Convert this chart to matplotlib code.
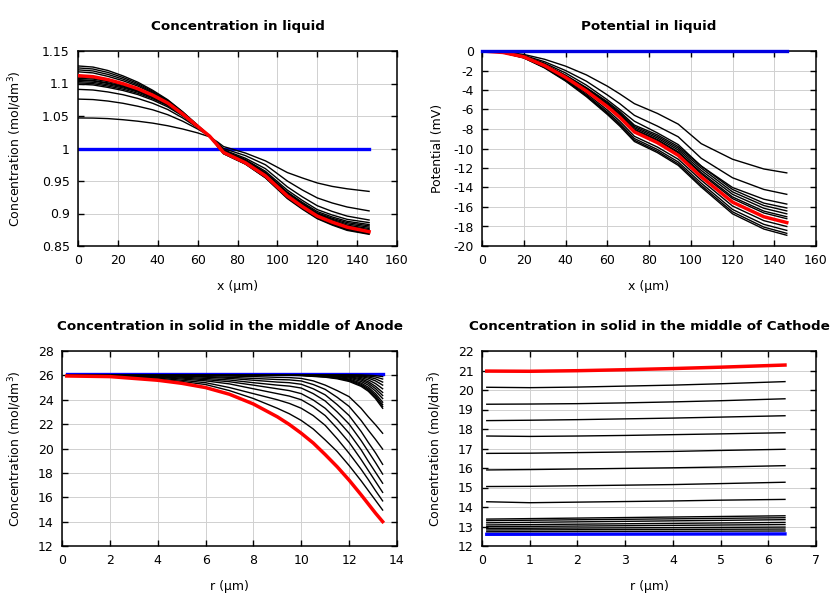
import numpy as np
import matplotlib
matplotlib.use('Agg')
import matplotlib.pyplot as plt
from matplotlib.ticker import FuncFormatter

plt.rcParams['font.family'] = 'DejaVu Sans'
plt.rcParams['axes.unicode_minus'] = False

# ---- Concentration in liquid (mol/dm3) vs x (um)
x_liq = [0, 7.5, 15, 22.5, 30, 37.5, 45, 52.5, 60, 66, 70, 73, 84, 94, 105, 112.5, 120, 127.5, 135, 146]
cl_1 = [1.047, 1.0468, 1.046, 1.0443, 1.042, 1.039, 1.035, 1.030, 1.024, 1.018, 1.010, 1.003, 0.993, 0.981, 0.963, 0.9547, 0.947, 0.9417, 0.938, 0.934]
cl_2 = [1.076, 1.0753, 1.073, 1.0696, 1.065, 1.0595, 1.052, 1.042, 1.030, 1.019, 1.008, 1.000, 0.989, 0.975, 0.950, 0.9362, 0.924, 0.9162, 0.910, 0.904]
cl_3 = [1.091, 1.090, 1.087, 1.0828, 1.077, 1.0695, 1.060, 1.047, 1.032, 1.019, 1.006, 0.998, 0.985, 0.969, 0.941, 0.9257, 0.912, 0.9032, 0.896, 0.890]
cl_4 = [1.099, 1.0978, 1.094, 1.0893, 1.083, 1.0745, 1.064, 1.050, 1.033, 1.019, 1.006, 0.997, 0.983, 0.965, 0.936, 0.9202, 0.906, 0.8977, 0.891, 0.886]
cl_5 = [1.101, 1.0998, 1.096, 1.0913, 1.085, 1.0765, 1.066, 1.0515, 1.033, 1.019, 1.005, 0.996, 0.982, 0.963, 0.933, 0.9172, 0.903, 0.8947, 0.888, 0.883]
cl_6 = [1.103, 1.1018, 1.098, 1.0933, 1.087, 1.078, 1.067, 1.0525, 1.034, 1.019, 1.005, 0.996, 0.981, 0.962, 0.932, 0.9157, 0.901, 0.8927, 0.886, 0.881]
cl_7 = [1.105, 1.1038, 1.100, 1.0948, 1.088, 1.079, 1.068, 1.053, 1.034, 1.019, 1.005, 0.995, 0.980, 0.961, 0.930, 0.9142, 0.900, 0.8912, 0.884, 0.879]
cl_8 = [1.106, 1.1048, 1.101, 1.0958, 1.089, 1.0795, 1.068, 1.053, 1.034, 1.019, 1.005, 0.995, 0.980, 0.960, 0.929, 0.9132, 0.899, 0.8897, 0.882, 0.877]
cl_9 = [1.108, 1.1068, 1.103, 1.0973, 1.090, 1.0805, 1.069, 1.0535, 1.034, 1.019, 1.005, 0.995, 0.979, 0.959, 0.928, 0.9122, 0.898, 0.8887, 0.881, 0.875]
cl_10 = [1.110, 1.1085, 1.104, 1.0983, 1.091, 1.081, 1.069, 1.0535, 1.034, 1.019, 1.005, 0.994, 0.979, 0.959, 0.928, 0.9117, 0.897, 0.8877, 0.880, 0.874]
cl_11 = [1.118, 1.1163, 1.111, 1.1043, 1.096, 1.085, 1.072, 1.055, 1.035, 1.019, 1.004, 0.993, 0.977, 0.957, 0.926, 0.9097, 0.895, 0.8852, 0.877, 0.871]
cl_12 = [1.121, 1.1193, 1.114, 1.1068, 1.098, 1.0865, 1.073, 1.0555, 1.035, 1.019, 1.004, 0.993, 0.977, 0.956, 0.925, 0.9087, 0.894, 0.8842, 0.876, 0.870]
cl_13 = [1.124, 1.1223, 1.117, 1.1093, 1.100, 1.088, 1.074, 1.056, 1.035, 1.019, 1.004, 0.992, 0.976, 0.955, 0.924, 0.9077, 0.893, 0.8832, 0.875, 0.869]
cl_14 = [1.127, 1.1253, 1.120, 1.1118, 1.102, 1.0895, 1.075, 1.0565, 1.036, 1.019, 1.003, 0.992, 0.976, 0.955, 0.923, 0.9067, 0.892, 0.8822, 0.874, 0.868]
cl_last = [1.112, 1.1105, 1.106, 1.0998, 1.092, 1.082, 1.070, 1.053, 1.034, 1.019, 1.005, 0.994, 0.978, 0.958, 0.927, 0.9107, 0.896, 0.8867, 0.879, 0.872]
x_liq_init = [0, 146]
cl_init = [1.0, 1.0]

# ---- Potential in liquid (mV) vs x (um)
x_pot = [0, 10, 20, 30, 40, 50, 60, 66, 73, 84, 94, 105, 120, 135, 146]
pot_1 = [0, -0.08, -0.35, -0.85, -1.55, -2.45, -3.6, -4.4, -5.4, -6.4, -7.5, -9.5, -11.1, -12.1, -12.5]
pot_2 = [0, -0.1, -0.45, -1.1, -2.0, -3.1, -4.5, -5.4, -6.6, -7.7, -8.8, -11.0, -13.0, -14.2, -14.7]
pot_3 = [0, -0.12, -0.5, -1.25, -2.25, -3.5, -5.0, -6.0, -7.2, -8.4, -9.6, -11.8, -14.0, -15.2, -15.7]
pot_4 = [0, -0.14, -0.55, -1.37, -2.47, -3.75, -5.2, -6.2, -7.6, -8.6, -9.8, -11.8, -14.2, -15.6, -16.1]
pot_5 = [0, -0.14, -0.56, -1.4, -2.52, -3.82, -5.3, -6.34, -7.74, -8.76, -9.97, -12.0, -14.45, -15.85, -16.4]
pot_6 = [0, -0.14, -0.57, -1.42, -2.56, -3.89, -5.41, -6.45, -7.88, -8.92, -10.15, -12.24, -14.7, -16.13, -16.7]
pot_7 = [0, -0.14, -0.58, -1.45, -2.61, -3.96, -5.51, -6.57, -8.02, -9.08, -10.34, -12.46, -14.97, -16.42, -17.0]
pot_8 = [0, -0.15, -0.59, -1.47, -2.64, -4.0, -5.57, -6.65, -8.11, -9.18, -10.45, -12.6, -15.14, -16.61, -17.2]
pot_9 = [0, -0.16, -0.64, -1.6, -2.85, -4.35, -6.05, -7.2, -8.75, -9.85, -11.1, -13.25, -15.9, -17.4, -18.0]
pot_10 = [0, -0.17, -0.67, -1.66, -2.95, -4.5, -6.25, -7.42, -8.98, -10.1, -11.38, -13.55, -16.25, -17.78, -18.4]
pot_11 = [0, -0.17, -0.69, -1.7, -3.02, -4.6, -6.38, -7.58, -9.15, -10.28, -11.58, -13.78, -16.5, -18.06, -18.7]
pot_12 = [0, -0.18, -0.71, -1.74, -3.08, -4.68, -6.5, -7.7, -9.28, -10.42, -11.73, -13.95, -16.7, -18.26, -18.9]
pot_last = [0, -0.15, -0.6, -1.5, -2.7, -4.1, -5.7, -6.8, -8.3, -9.4, -10.7, -12.9, -15.5, -17.0, -17.6]
x_pot_init = [0, 146]
pot_init = [0, 0]

# ---- Solid concentration, middle of anode, vs r (um)
r_an = [0.2, 2, 4, 5, 6, 7, 8, 9, 9.5, 10, 10.5, 11, 11.5, 12, 12.5, 12.8, 13.1, 13.4]
an_1 = [26.02, 25.97, 25.7, 25.5, 25.25, 24.75, 24.1, 23.3, 22.85, 22.3, 21.6, 20.7, 19.75, 18.6, 17.35, 16.55, 15.75, 14.95]
an_2 = [26.03, 26.0, 25.78, 25.6, 25.4, 25.0, 24.5, 24.0, 23.7, 23.3, 22.7, 21.9, 20.8, 19.6, 18.3, 17.45, 16.55, 15.7]
an_3 = [26.03, 26.02, 25.84, 25.7, 25.55, 25.3, 24.9, 24.5, 24.3, 24.0, 23.43, 22.7, 21.65, 20.5, 19.1, 18.2, 17.3, 16.4]
an_4 = [26.04, 26.03, 25.88, 25.78, 25.65, 25.48, 25.2, 24.9, 24.75, 24.5, 23.98, 23.3, 22.35, 21.25, 19.9, 18.95, 18.05, 17.15]
an_5 = [26.05, 26.04, 25.92, 25.85, 25.75, 25.62, 25.4, 25.2, 25.12, 24.96, 24.5, 23.9, 23.0, 22.0, 20.65, 19.75, 18.85, 17.9]
an_6 = [26.05, 26.05, 25.96, 25.92, 25.85, 25.75, 25.6, 25.45, 25.4, 25.27, 24.9, 24.4, 23.6, 22.7, 21.4, 20.5, 19.65, 18.7]
an_7 = [26.05, 26.05, 25.99, 25.96, 25.9, 25.84, 25.75, 25.66, 25.63, 25.54, 25.25, 24.85, 24.2, 23.45, 22.3, 21.5, 20.75, 19.95]
an_8 = [26.05, 26.05, 26.02, 26.0, 25.97, 25.94, 25.9, 25.84, 25.82, 25.75, 25.55, 25.2, 24.75, 24.25, 23.3, 22.6, 21.95, 21.25]
an_last = [25.95, 25.9, 25.6, 25.35, 25.0, 24.45, 23.65, 22.6, 21.97, 21.25, 20.45, 19.5, 18.5, 17.4, 16.2, 15.45, 14.7, 14.0]
r_an_early = [0.2, 9, 10, 11, 11.5, 12, 12.5, 12.8, 13.1, 13.4]
ae_1 = [26.05, 26.03, 25.98, 25.85, 25.72, 25.5, 25.1, 24.7, 24.1, 23.3]
ae_2 = [26.05, 26.04, 26.0, 25.88, 25.77, 25.57, 25.18, 24.8, 24.22, 23.44]
ae_3 = [26.05, 26.04, 26.01, 25.9, 25.8, 25.63, 25.27, 24.9, 24.35, 23.6]
ae_4 = [26.05, 26.05, 26.02, 25.93, 25.84, 25.7, 25.37, 25.03, 24.5, 23.8]
ae_5 = [26.05, 26.05, 26.03, 25.96, 25.9, 25.78, 25.5, 25.2, 24.72, 24.1]
ae_6 = [26.05, 26.05, 26.04, 25.98, 25.94, 25.85, 25.62, 25.35, 24.92, 24.35]
ae_7 = [26.05, 26.05, 26.05, 26.0, 25.97, 25.9, 25.72, 25.48, 25.1, 24.6]
ae_8 = [26.05, 26.05, 26.05, 26.02, 26.0, 25.95, 25.82, 25.63, 25.33, 24.9]
ae_9 = [26.05, 26.05, 26.05, 26.03, 26.02, 25.99, 25.9, 25.77, 25.55, 25.2]
ae_10 = [26.05, 26.05, 26.05, 26.04, 26.03, 26.01, 25.96, 25.87, 25.72, 25.45]
ae_11 = [26.05, 26.05, 26.05, 26.05, 26.05, 26.03, 26.0, 25.95, 25.87, 25.7]
ae_12 = [26.05, 26.05, 26.05, 26.05, 26.05, 26.05, 26.04, 26.02, 25.98, 25.9]
r_an_init = [0.2, 13.4]
an_init = [26.1, 26.1]

# ---- Solid concentration, middle of cathode, vs r (um)
r_ca = [0.1, 1, 2, 3, 4, 5, 6.35]
ca_1 = [20.14, 20.12, 20.15, 20.2, 20.25, 20.32, 20.43]
ca_2 = [19.27, 19.28, 19.3, 19.34, 19.39, 19.45, 19.55]
ca_3 = [18.43, 18.45, 18.48, 18.52, 18.56, 18.61, 18.68]
ca_4 = [17.64, 17.62, 17.64, 17.67, 17.71, 17.75, 17.81]
ca_5 = [16.75, 16.76, 16.79, 16.82, 16.85, 16.9, 16.96]
ca_6 = [15.9, 15.92, 15.95, 15.98, 16.01, 16.05, 16.12]
ca_7 = [15.05, 15.06, 15.09, 15.12, 15.15, 15.2, 15.27]
ca_8 = [14.27, 14.22, 14.25, 14.28, 14.31, 14.35, 14.39]
ca_last = [20.97, 20.96, 20.99, 21.04, 21.1, 21.17, 21.28]
r_ca_ends = [0.1, 6.35]
ce_1 = [13.38, 13.55]
ce_2 = [13.3, 13.45]
ce_3 = [13.19, 13.35]
ce_4 = [13.08, 13.21]
ce_5 = [12.99, 13.1]
ce_6 = [12.9, 12.97]
ce_7 = [12.82, 12.87]
ce_8 = [12.73, 12.77]
ca_init = [12.6, 12.62]

fig = plt.figure(figsize=(8.4, 6.0), dpi=100)
ax1 = fig.add_axes([78/840, 1-246/600, 319/840, 195/600])
ax2 = fig.add_axes([482/840, 1-246/600, 334/840, 195/600])
ax3 = fig.add_axes([62/840, 1-546/600, 335/840, 195/600])
ax4 = fig.add_axes([482/840, 1-546/600, 334/840, 195/600])

fmt = FuncFormatter(lambda v, p: '%g' % round(v, 6))

def style(ax, title, xlabel, ylabel, xt, yt, ylab_x):
    ax.set_xlim(xt[0], xt[-1]); ax.set_ylim(yt[0], yt[-1])
    ax.set_xticks(xt); ax.set_yticks(yt)
    ax.xaxis.set_major_formatter(fmt); ax.yaxis.set_major_formatter(fmt)
    ax.tick_params(direction='in', top=True, right=True, length=4, width=1, labelsize=9, pad=6)
    ax.grid(True, color='#d0d0d0', lw=0.7)
    ax.set_axisbelow(True)
    for s in ax.spines.values():
        s.set_linewidth(1.1)
    ax.set_title(title, fontsize=9.7, fontweight='bold', pad=15)
    ax.set_xlabel(xlabel, fontsize=9, labelpad=9)
    ax.set_ylabel(ylabel, fontsize=9)
    ax.yaxis.set_label_coords(ylab_x, 0.5)

# panel 1
ax1.plot(x_liq_init, cl_init, color='#0000ff', lw=2.4, zorder=2)
for c in [cl_1, cl_2, cl_3, cl_4, cl_5, cl_6, cl_7, cl_8, cl_9, cl_10, cl_11, cl_12, cl_13, cl_14]:
    ax1.plot(x_liq, c, color='black', lw=1.0, zorder=3)
ax1.plot(x_liq, cl_last, color='#ff0000', lw=2.5, zorder=4)
style(ax1, 'Concentration in liquid', 'x (µm)', 'Concentration (mol/dm$^3$)',
      np.arange(0, 161, 20), np.arange(0.85, 1.151, 0.05), -0.17)

# panel 2
for c in [pot_1, pot_2, pot_3, pot_4, pot_5, pot_6, pot_7, pot_8, pot_9, pot_10, pot_11, pot_12]:
    ax2.plot(x_pot, c, color='black', lw=1.0, zorder=3)
ax2.plot(x_pot, pot_last, color='#ff0000', lw=2.5, zorder=4)
ax2.plot(x_pot_init, pot_init, color='#0000e0', lw=2.4, zorder=5, clip_on=False)
style(ax2, 'Potential in liquid', 'x (µm)', 'Potential (mV)',
      np.arange(0, 161, 20), np.arange(-20, 0.1, 2), -0.115)

# panel 3
ax3.plot(r_an_init, an_init, color='#0000ff', lw=2.4, zorder=2)
for c in [an_1, an_2, an_3, an_4, an_5, an_6, an_7, an_8]:
    ax3.plot(r_an, c, color='black', lw=1.0, zorder=3)
for c in [ae_1, ae_2, ae_3, ae_4, ae_5, ae_6, ae_7, ae_8, ae_9, ae_10, ae_11, ae_12]:
    ax3.plot(r_an_early, c, color='black', lw=1.0, zorder=3)
ax3.plot(r_an, an_last, color='#ff0000', lw=2.5, zorder=4)
style(ax3, 'Concentration in solid in the middle of Anode', 'r (µm)', 'Concentration (mol/dm$^3$)',
      np.arange(0, 15, 2), np.arange(12, 29, 2), -0.113)

# panel 4
ax4.plot(r_ca_ends, ca_init, color='#0000ff', lw=2.4, zorder=2)
for c in [ca_1, ca_2, ca_3, ca_4, ca_5, ca_6, ca_7, ca_8]:
    ax4.plot(r_ca, c, color='black', lw=1.0, zorder=3)
for c in [ce_1, ce_2, ce_3, ce_4, ce_5, ce_6, ce_7, ce_8]:
    ax4.plot(r_ca_ends, c, color='black', lw=1.0, zorder=3)
ax4.plot(r_ca, ca_last, color='#ff0000', lw=2.5, zorder=4)
style(ax4, 'Concentration in solid in the middle of Cathode', 'r (µm)', 'Concentration (mol/dm$^3$)',
      np.arange(0, 8, 1), np.arange(12, 23, 1), -0.113)

fig.savefig('out.png', dpi=100)
